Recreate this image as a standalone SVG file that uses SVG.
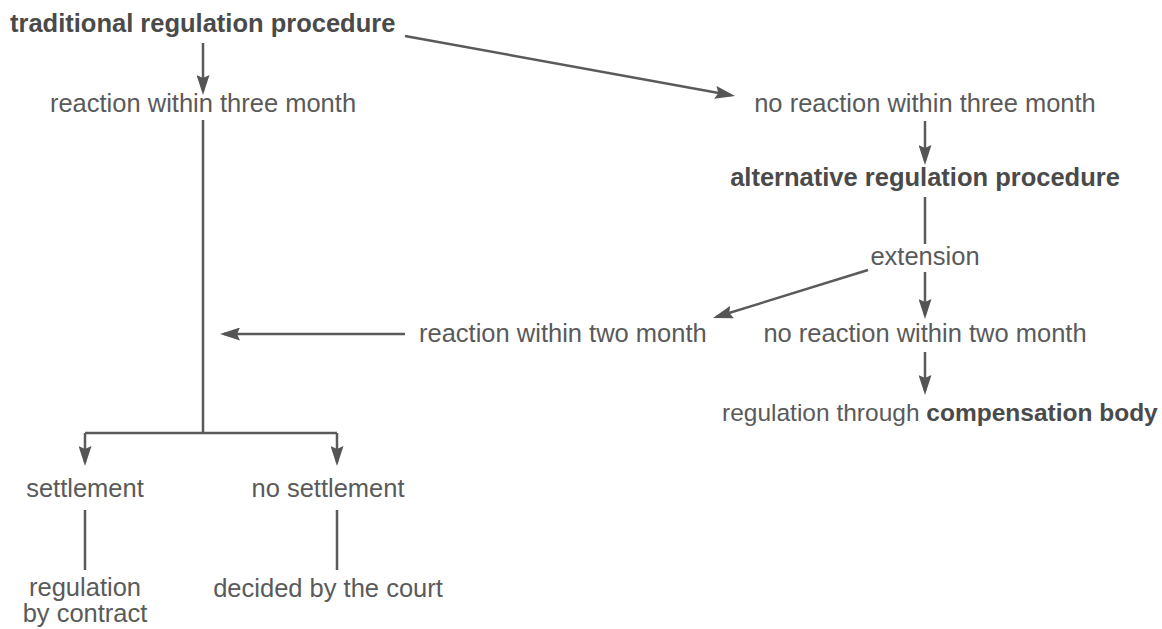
<svg xmlns="http://www.w3.org/2000/svg" width="1162" height="629" viewBox="0 0 1162 629">
  <style>
    .t { font-family: "Liberation Sans", Arial, sans-serif; font-size: 25.5px; fill: #5a5a5a; }
    .b { font-weight: bold; fill: #4a4a4a; }
    .m { text-anchor: middle; }
    .c { fill: none; stroke: #5a5a5a; stroke-width: 2.5; }
    .a { marker-end: url(#arr); }
  </style>
  <defs>
    <marker id="arr" viewBox="0 0 20 13" markerWidth="20" markerHeight="13" markerUnits="userSpaceOnUse" refX="16" refY="6.5" orient="auto">
      <path d="M0,0 L20,6.5 L0,13 L3,6.5 Z" fill="#555555"/>
    </marker>
  </defs>
  <rect width="1162" height="629" fill="#ffffff"/>

  <g id="connectors">
    <path class="c a" d="M203,43 V91"/>
    <path class="c a" d="M405,36 L731.1,95.3"/>
    <path class="c a" d="M925,121 V161"/>
    <path class="c" d="M925,197 V244"/>
    <path class="c a" d="M925,272 V315"/>
    <path class="c a" d="M868,270 L716.8,316.8"/>
    <path class="c a" d="M405,334 H224"/>
    <path class="c a" d="M925,352 V391"/>
    <path class="c" d="M203,120 V433"/>
    <path class="c" d="M85,433 H337"/>
    <path class="c a" d="M85,433 V462"/>
    <path class="c a" d="M337,433 V462"/>
    <path class="c" d="M85,510 V570"/>
    <path class="c" d="M337,510 V570"/>
  </g>

  <g id="traditional"><text class="t b" x="10" y="32">traditional regulation procedure</text></g>
  <g id="reaction3"><text class="t m" x="203" y="112">reaction within three month</text></g>
  <g id="noreaction3"><text class="t m" x="925" y="112">no reaction within three month</text></g>
  <g id="alternative"><text class="t b m" x="925" y="186">alternative regulation procedure</text></g>
  <g id="extension"><text class="t m" x="925" y="265">extension</text></g>
  <g id="reaction2"><text class="t" x="419" y="342">reaction within two month</text></g>
  <g id="noreaction2"><text class="t m" x="925" y="342">no reaction within two month</text></g>
  <g id="compensation"><text class="t" x="722" y="421" style="font-size:24.5px">regulation through <tspan class="b">compensation body</tspan></text></g>
  <g id="settlement"><text class="t m" x="85" y="497">settlement</text></g>
  <g id="nosettlement"><text class="t m" x="328" y="497">no settlement</text></g>
  <g id="contract"><text class="t m" x="85" y="596">regulation</text><text class="t m" x="85" y="622">by contract</text></g>
  <g id="court"><text class="t m" x="328" y="597">decided by the court</text></g>
</svg>
